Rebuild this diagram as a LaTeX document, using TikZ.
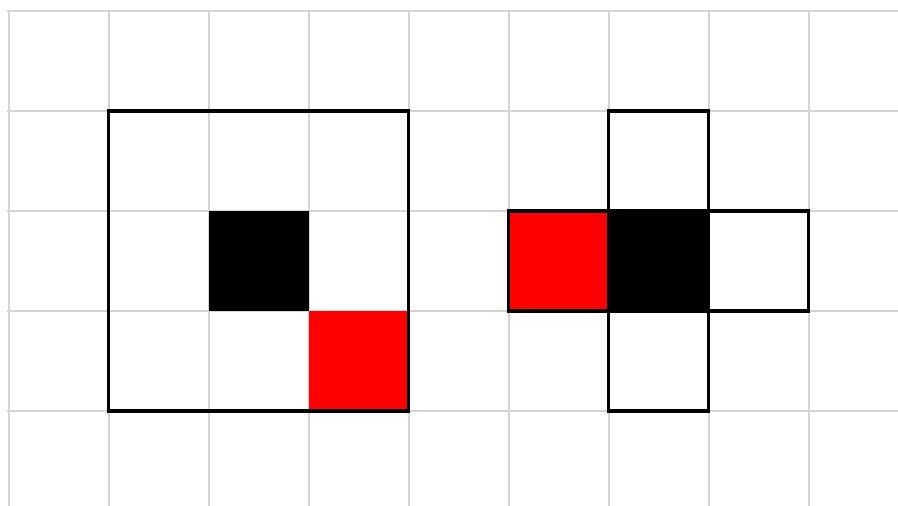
\documentclass[tikz,border=0pt]{standalone}
\definecolor{gridgray}{RGB}{212,212,212}
\definecolor{cellred}{RGB}{255,0,0}
\tikzset{
  gridline/.style={draw=gridgray, line width=2pt},
  cellbox/.style={minimum size=100pt, inner sep=0pt, outer sep=0pt, draw=black, line width=3.8pt},
  fillbox/.style={minimum size=100pt, inner sep=0pt, outer sep=0pt},
  bigbox/.style={minimum size=300pt, inner sep=0pt, outer sep=0pt, draw=black, line width=3.8pt}
}
\begin{document}
\begin{tikzpicture}[x=1pt,y=-1pt]
\useasboundingbox (0,0) rectangle (898,506);
\fill[white] (0,0) rectangle (898,506);
% grid
\foreach \yy in {10.7,110.7,210.7,310.7,410.7}
  \draw[gridline] (7,\yy) -- (898,\yy);
\foreach \xx in {8.5,108.5,208.5,308.5,408.5,508.5,608.5,708.5,808.5}
  \draw[gridline] (\xx,9.7) -- (\xx,506);
% left figure
\node[fillbox, fill=black] (Lblack) at (258.5,260.7) {};
\node[fillbox, fill=cellred] (Lred) at (358.5,360.7) {};
\node[bigbox] (Lbig) at (258.5,260.7) {};
% right cross
\node[cellbox, fill=white] (Rtop) at (658.5,160.7) {};
\node[cellbox, fill=cellred] (Rred) at (558.5,260.7) {};
\node[cellbox, fill=black] (Rblack) at (658.5,260.7) {};
\node[cellbox, fill=white] (Rwhite) at (758.5,260.7) {};
\node[cellbox, fill=white] (Rbottom) at (658.5,360.7) {};
\end{tikzpicture}
\end{document}
